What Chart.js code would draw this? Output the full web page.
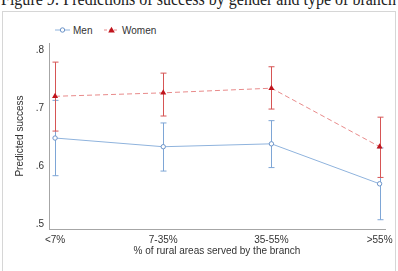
<!DOCTYPE html>
<html>
<head>
<meta charset="utf-8">
<script src="https://cdn.jsdelivr.net/npm/chart.js@4.4.1/dist/chart.umd.min.js"></script>
<style>
  html, body { margin: 0; padding: 0; background: #fff; }
  body { width: 398px; height: 271px; position: relative; overflow: hidden; }
  #title { position: absolute; left: 1px; top: -10px; font: 18px 'Liberation Serif', serif; line-height: 18px; color: #222; white-space: nowrap; transform-origin: 0 0; }
  #frame { position: absolute; left: 2px; top: 11px; width: 394px; height: 270px; border: 1px solid #d6d6d6; box-sizing: border-box; }
  #legend { position: absolute; top: 24px; left: 0; font: 10px 'Liberation Sans', Arial, sans-serif; color: #333; }
  .item { position: absolute; top: 0; display: flex; align-items: center; height: 12px; white-space: nowrap; }
  .item svg { margin-right: 3px; }
  canvas { position: absolute; left: 0; top: 0; }
</style>
</head>
<body>
<div id="title">Figure 9: Predictions of success by gender and type of branch</div>
<div id="frame"></div>
<div id="legend">
  <div class="item" style="left:55px"><svg width="15" height="8"><line x1="0" y1="4" x2="15" y2="4" stroke="#8fb3dd" stroke-width="1"/><circle cx="7.5" cy="4" r="2.2" fill="#fff" stroke="#6b93c8" stroke-width="1"/></svg>Men</div>
  <div class="item" style="left:104px"><svg width="15" height="8"><line x1="0" y1="4" x2="15" y2="4" stroke="#e88a8a" stroke-width="1" stroke-dasharray="3,2"/><polygon points="7.5,0.8 10.8,6.6 4.2,6.6" fill="#c0141c"/></svg>Women</div>
</div>
<canvas id="chart" width="398" height="271"></canvas>
<script>
// categories and estimates
const categories = ['<7%', '7-35%', '35-55%', '>55%'];
const yTicks = [0.5, 0.6, 0.7, 0.8];

const menValues = [0.648, 0.633, 0.638, 0.569];
const menLow    = [0.583, 0.591, 0.597, 0.507];
const menHigh   = [0.713, 0.674, 0.678, 0.631];

const womenValues = [0.720, 0.726, 0.734, 0.633];
const womenLow    = [0.660, 0.686, 0.698, 0.580];
const womenHigh   = [0.779, 0.760, 0.771, 0.684];

const FONT = { family: "'Liberation Sans', Arial, sans-serif", size: 10 };
const TEXT = '#333';

// confidence intervals, drawn under the lines
const errorBars = {
  id: 'errorBars',
  beforeDatasetsDraw(chart) {
    const { ctx, scales: { x, y } } = chart;
    chart.data.datasets.forEach(ds => {
      ctx.save();
      ctx.strokeStyle = ds.barColor;
      ctx.lineWidth = 1;
      ds.low.forEach((lo, i) => {
        const px = Math.round(x.getPixelForValue(i)) + 0.5;
        const y1 = y.getPixelForValue(lo);
        const y2 = y.getPixelForValue(ds.high[i]);
        ctx.beginPath();
        ctx.moveTo(px, y1); ctx.lineTo(px, y2);
        ctx.moveTo(px - 3, y1); ctx.lineTo(px + 3, y1);
        ctx.moveTo(px - 3, y2); ctx.lineTo(px + 3, y2);
        ctx.stroke();
      });
      ctx.restore();
    });
  }
};

const toPoints = vals => vals.map((v, i) => ({ x: i, y: v }));

new Chart(document.getElementById('chart'), {
  type: 'scatter',
  data: {
    datasets: [
      {
        label: 'Men',
        data: toPoints(menValues),
        low: menLow, high: menHigh, barColor: '#7ea6d6',
        showLine: true,
        borderColor: '#8fb3dd', borderWidth: 1,
        pointStyle: 'circle', pointRadius: 2.2,
        pointBackgroundColor: '#fff', pointBorderColor: '#6b93c8', pointBorderWidth: 1
      },
      {
        label: 'Women',
        data: toPoints(womenValues),
        low: womenLow, high: womenHigh, barColor: '#d65555',
        showLine: true,
        borderColor: '#e88a8a', borderWidth: 1, borderDash: [5, 3],
        pointStyle: 'triangle', pointRadius: 3.5,
        pointBackgroundColor: '#c0141c', pointBorderColor: '#c0141c', pointBorderWidth: 0
      }
    ]
  },
  options: {
    responsive: false, animation: false,
    layout: { padding: { left: 0, top: 43, right: 13, bottom: 14 } },
    plugins: { legend: { display: false }, tooltip: { enabled: false } },
    scales: {
      x: {
        type: 'linear', min: -0.056, max: 3.05,
        grid: { display: false, drawTicks: false },
        border: { color: '#a6a6a6' },
        afterBuildTicks: s => { s.ticks = categories.map((_, i) => ({ value: i })); },
        afterFit: s => { s.height = 28; },
        ticks: { padding: 5, font: FONT, color: TEXT, maxRotation: 0, callback: v => categories[v] },
        title: { display: true, text: '% of rural areas served by the branch', font: FONT, color: TEXT, padding: { top: 0, bottom: 0 } }
      },
      y: {
        min: 0.491, max: 0.812,
        grid: { display: false, drawTicks: false },
        border: { color: '#a6a6a6' },
        afterBuildTicks: s => { s.ticks = yTicks.map(v => ({ value: v })); },
        afterFit: s => { s.width = 49; },
        ticks: { padding: 5, font: FONT, color: TEXT, callback: v => String(v).replace(/^0/, '') },
        title: { display: true, text: 'Predicted success', font: FONT, color: TEXT, padding: { top: 14, bottom: 0 } }
      }
    }
  },
  plugins: [errorBars]
});

// squeeze the caption to the page width
const t = document.getElementById('title');
const w = t.getBoundingClientRect().width;
if (w > 395) t.style.transform = `scaleX(${395 / w})`;
</script>
</body>
</html>
